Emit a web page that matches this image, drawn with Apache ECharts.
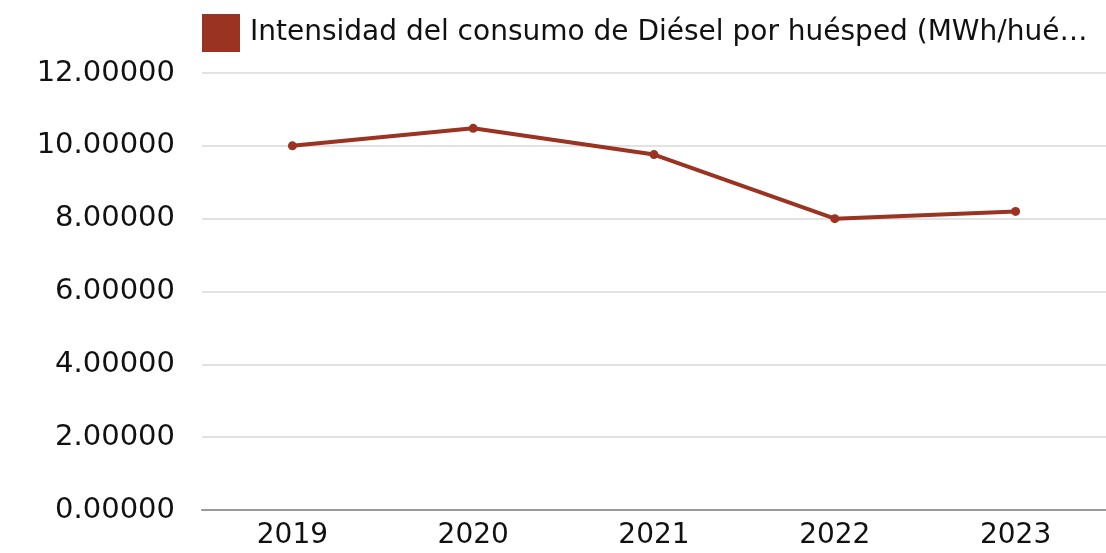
<!DOCTYPE html>
<html>
<head>
<meta charset="utf-8">
<script src="https://cdn.jsdelivr.net/npm/echarts@6/dist/echarts.min.js"></script>
<style>
  html, body { margin: 0; padding: 0; background: #fff; }
  #main { width: 1106px; height: 553px; }
</style>
</head>
<body>
<div id="main"></div>
<script>
var years = ['2019', '2020', '2021', '2022', '2023'];
var dieselIntensity = [10.0, 10.48, 9.76, 8.0, 8.2];
var seriesName = 'Intensidad del consumo de Diésel por huésped (MWh/huésped)';

window.onload = function () {
    var myChart = echarts.init(document.getElementById('main'));
    var option = {
        animation: false,
        textStyle: { fontFamily: 'DejaVu Sans' },
        legend: {
            left: 202,
            top: 14,
            padding: 0,
            itemWidth: 38,
            itemHeight: 38,
            icon: 'rect',
            data: [seriesName],
            textStyle: {
                fontFamily: 'DejaVu Sans',
                fontSize: 28,
                color: '#111',
                width: 850,
                overflow: 'truncate',
                ellipsis: '…',
                padding: [0, 0, 0, 5]
            }
        },
        grid: {
            left: 202,
            right: 0,
            top: 73,
            bottom: 43,
            containLabel: false
        },
        xAxis: {
            type: 'category',
            data: years,
            axisLine: { lineStyle: { color: '#999', width: 2 } },
            axisTick: { show: false },
            axisLabel: { fontFamily: 'DejaVu Sans', fontSize: 28, color: '#111', margin: 12 }
        },
        yAxis: {
            type: 'value',
            min: 0,
            max: 12,
            interval: 2,
            axisLine: { show: false },
            axisTick: { show: false },
            splitLine: { lineStyle: { color: '#d9d9d9', width: 1.5 } },
            axisLabel: {
                fontFamily: 'DejaVu Sans',
                fontSize: 29,
                color: '#111',
                margin: 27,
                formatter: function (v) { return v.toFixed(5); }
            }
        },
        series: [
            {
                name: seriesName,
                type: 'line',
                data: dieselIntensity,
                color: '#9a3322',
                symbol: 'circle',
                symbolSize: 9,
                lineStyle: { width: 4 }
            }
        ]
    };
    option && myChart.setOption(option);
};
</script>
</body>
</html>
